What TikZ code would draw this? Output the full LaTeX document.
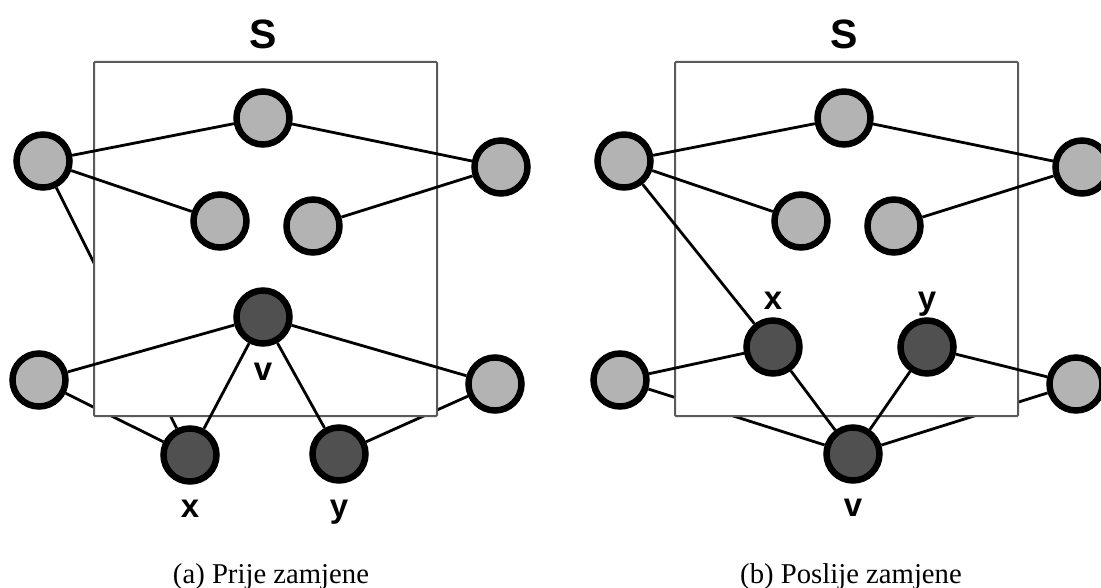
\documentclass[tikz,border=0pt]{standalone}
\usepackage{fontspec}
\setmainfont{Liberation Serif}
\setsansfont{Liberation Sans}
\usepackage{tikz}

\definecolor{lightfill}{HTML}{B3B3B3}
\definecolor{darkfill}{HTML}{505050}
\definecolor{boxgray}{HTML}{5A5A5A}

\pgfdeclarelayer{hidden}
\pgfdeclarelayer{boxlayer}
\pgfdeclarelayer{wires}
\pgfsetlayers{hidden,boxlayer,wires,main}

\begin{document}
\begin{tikzpicture}[x=1pt,y=-1pt,
	vert/.style={circle,draw=black,line width=6.5pt,minimum size=53pt,inner sep=0pt},
	lightv/.style={vert,fill=lightfill},
	darkv/.style={vert,fill=darkfill},
	lbl/.style={font=\sffamily\bfseries\fontsize{33}{36}\selectfont,anchor=base,inner sep=0pt},
	setname/.style={font=\sffamily\bfseries\fontsize{41}{44}\selectfont,anchor=base,inner sep=0pt},
	caption/.style={font=\fontsize{28.7}{32}\selectfont,anchor=base,inner sep=0pt},
	wire/.style={line width=2.8pt},
	setbox/.style={draw=boxgray,line width=2pt,fill=white,rounded corners=1pt}]

	\useasboundingbox (0,0) rectangle (1101,588);

	% (a) before the swap
	\node[lightv] (a-top) at (263,118) {};
	\node[lightv] (a-tl)  at (43,161)  {};
	\node[lightv] (a-tr)  at (501,167) {};
	\node[lightv] (a-il)  at (220,221) {};
	\node[lightv] (a-ir)  at (313,226) {};
	\node[darkv]  (a-v)   at (263,317) {};
	\node[lightv] (a-lb)  at (39,380)  {};
	\node[lightv] (a-rb)  at (495,384) {};
	\node[darkv]  (a-x)   at (190,455) {};
	\node[darkv]  (a-y)   at (339,454) {};

	\node[setname] (a-s)  at (263,49)  {S};
	\node[lbl] (a-vl) at (263,380) {v};
	\node[lbl] (a-xl) at (190,517) {x};
	\node[lbl] (a-yl) at (339,517) {y};
	\node[caption] (a-cap) at (271,583) {(a) Prije zamjene};

	\begin{pgfonlayer}{hidden}
		\draw[wire] (a-tl) -- (a-x);
		\draw[wire] (a-lb) -- (a-x);
		\draw[wire] (a-rb) -- (a-y);
	\end{pgfonlayer}
	\begin{pgfonlayer}{boxlayer}
		\draw[setbox] (94,62) rectangle (437,416);
	\end{pgfonlayer}
	\begin{pgfonlayer}{wires}
		\draw[wire] (a-tl) -- (a-top) -- (a-tr);
		\draw[wire] (a-tl) -- (a-il);
		\draw[wire] (a-tr) -- (a-ir);
		\draw[wire] (a-lb) -- (a-v) -- (a-rb);
		\draw[wire] (a-x) -- (a-v) -- (a-y);
	\end{pgfonlayer}

	% (b) after the swap
	\node[lightv] (b-top) at (844,118)  {};
	\node[lightv] (b-tl)  at (624,161)  {};
	\node[lightv] (b-tr)  at (1082,167) {};
	\node[lightv] (b-il)  at (801,221)  {};
	\node[lightv] (b-ir)  at (894,226)  {};
	\node[darkv]  (b-x)   at (773,347)  {};
	\node[darkv]  (b-y)   at (927,347)  {};
	\node[lightv] (b-lb)  at (620,380)  {};
	\node[lightv] (b-rb)  at (1076,384) {};
	\node[darkv]  (b-v)   at (853,454)  {};

	\node[setname] (b-s)  at (844,49)  {S};
	\node[lbl] (b-xl) at (773,309) {x};
	\node[lbl] (b-yl) at (927,309) {y};
	\node[lbl] (b-vl) at (853,516) {v};
	\node[caption] (b-cap) at (851,583) {(b) Poslije zamjene};

	\begin{pgfonlayer}{hidden}
		\draw[wire] (b-lb) -- (b-v);
		\draw[wire] (b-rb) -- (b-v);
	\end{pgfonlayer}
	\begin{pgfonlayer}{boxlayer}
		\draw[setbox] (675,62) rectangle (1018,416);
	\end{pgfonlayer}
	\begin{pgfonlayer}{wires}
		\draw[wire] (b-tl) -- (b-top) -- (b-tr);
		\draw[wire] (b-tl) -- (b-il);
		\draw[wire] (b-tr) -- (b-ir);
		\draw[wire] (b-tl) -- (b-x);
		\draw[wire] (b-lb) -- (b-x) -- (b-v);
		\draw[wire] (b-rb) -- (b-y) -- (b-v);
	\end{pgfonlayer}

\end{tikzpicture}
\end{document}
